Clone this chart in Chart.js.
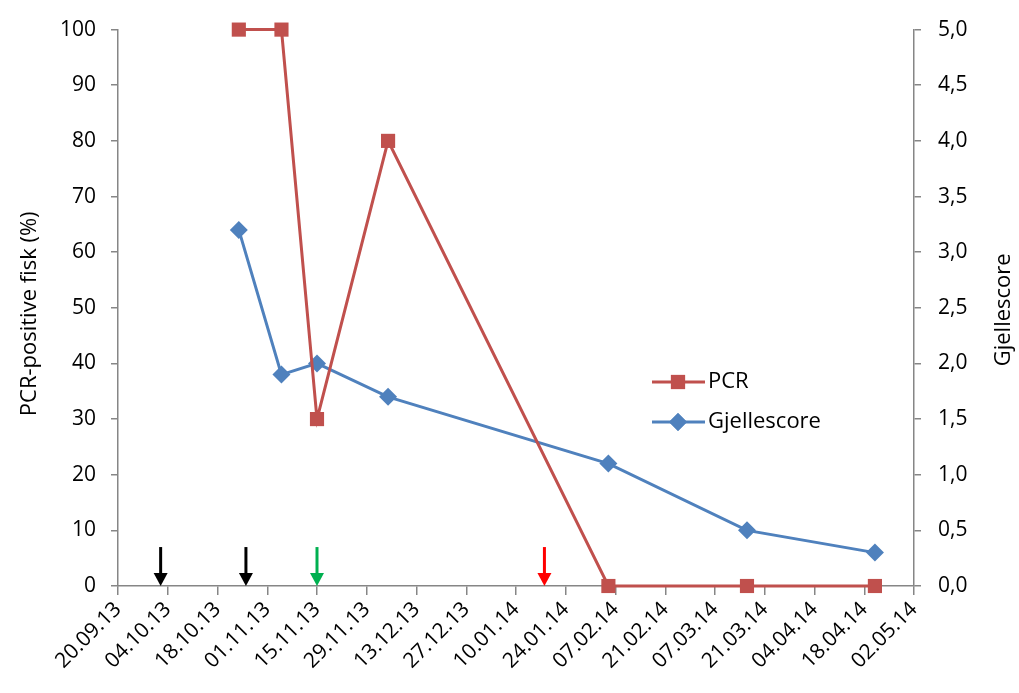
<!DOCTYPE html>
<html>
<head>
<meta charset="utf-8">
<script src="https://cdn.jsdelivr.net/npm/chart.js@4/dist/chart.umd.min.js"></script>
<style>
  html, body { margin: 0; padding: 0; background: #fff; }
  #wrap { width: 1019px; height: 693px; }
</style>
</head>
<body>
<div id="wrap"><canvas id="chart" width="1019" height="693"></canvas></div>
<script>
/* ── Data ──────────────────────────────────────────────────── */
const sampleDates = ['24.10.13', '05.11.13', '15.11.13', '05.12.13', '05.02.14', '16.03.14', '21.04.14'];
const pcrValues   = [100, 100, 30, 80, 0, 0, 0];
const gillValues  = [3.2, 1.9, 2.0, 1.7, 1.1, 0.5, 0.3];

const arrowDates  = ['02.10.13', '26.10.13', '15.11.13', '18.01.14'];
const arrowColors = ['#000000', '#000000', '#00B050', '#FF0000'];
const arrowTop    = 7;   // in % on left axis

const axisStart = '20.09.13';
const axisEnd   = '02.05.14';
const tickStepDays = 14;

/* ── Palette ───────────────────────────────────────────────── */
const palette = {
    red:  '#C0504D',
    blue: '#4F81BD',
    axis: '#868686',
    text: '#000000',
};
const FONT = '"Open Sans", Lato, "DejaVu Sans", sans-serif';

/* ── Date helpers: dd.mm.yy <-> days since axis start ──────── */
function parseDate(s) {
    const [d, m, y] = s.split('.').map(Number);
    return Date.UTC(2000 + y, m - 1, d);
}
const DAY = 86400000;
const t0 = parseDate(axisStart);
const toDay = s => Math.round((parseDate(s) - t0) / DAY);
function fmtDay(n) {
    const d = new Date(t0 + n * DAY);
    const p = v => String(v).padStart(2, '0');
    return p(d.getUTCDate()) + '.' + p(d.getUTCMonth() + 1) + '.' + p(d.getUTCFullYear() % 100);
}

const pcrData  = sampleDates.map((s, i) => ({ x: toDay(s), y: pcrValues[i] }));
const gillData = sampleDates.map((s, i) => ({ x: toDay(s), y: gillValues[i] }));

/* ── Plugins: arrows, axis titles, inline legend ───────────── */
const arrowPlugin = {
    id: 'arrows',
    afterDatasetsDraw(chart) {
        const { ctx, scales: { x, y } } = chart;
        ctx.save();
        arrowDates.forEach((s, i) => {
            const px = x.getPixelForValue(toDay(s));
            const top = y.getPixelForValue(arrowTop);
            const bot = y.getPixelForValue(0);
            ctx.strokeStyle = ctx.fillStyle = arrowColors[i];
            ctx.lineWidth = 3;
            ctx.beginPath();
            ctx.moveTo(px, top);
            ctx.lineTo(px, bot - 10);
            ctx.stroke();
            ctx.beginPath();
            ctx.moveTo(px - 7, bot - 13);
            ctx.lineTo(px + 7, bot - 13);
            ctx.lineTo(px, bot);
            ctx.closePath();
            ctx.fill();
        });
        ctx.restore();
    },
};

const titlesPlugin = {
    id: 'titles',
    afterDraw(chart) {
        const { ctx, chartArea } = chart;
        const midY = (chartArea.top + chartArea.bottom) / 2;
        ctx.save();
        ctx.fillStyle = palette.text;
        ctx.font = '22px ' + FONT;
        ctx.textAlign = 'center';
        ctx.textBaseline = 'middle';
        ctx.translate(30, midY + 6);
        ctx.rotate(-Math.PI / 2);
        ctx.fillText('PCR-positive fisk (%)', 0, 0);
        ctx.restore();

        ctx.save();
        ctx.fillStyle = palette.text;
        ctx.font = '22px ' + FONT;
        ctx.textAlign = 'center';
        ctx.textBaseline = 'middle';
        ctx.translate(1004, midY + 2);
        ctx.rotate(-Math.PI / 2);
        ctx.fillText('Gjellescore', 0, 0);
        ctx.restore();
    },
};

const legendPlugin = {
    id: 'inlineLegend',
    afterDraw(chart) {
        const { ctx } = chart;
        ctx.save();
        ctx.font = '22px ' + FONT;
        ctx.textBaseline = 'middle';
        chart.data.datasets.forEach((ds, i) => {
            const yy = 382 + i * 40;
            ctx.strokeStyle = ds.borderColor;
            ctx.lineWidth = 3;
            ctx.beginPath();
            ctx.moveTo(652, yy);
            ctx.lineTo(705, yy);
            ctx.stroke();
            ctx.fillStyle = ds.backgroundColor;
            Chart.helpers.drawPoint(ctx, {
                pointStyle: ds.pointStyle,
                radius: ds.pointRadius,
                borderWidth: 0,
                rotation: 0,
            }, 678, yy);
            ctx.fill();
            ctx.fillStyle = palette.text;
            ctx.fillText(ds.label, 708, yy);
        });
        ctx.restore();
    },
};

/* ── Chart ─────────────────────────────────────────────────── */
const tickFont = { family: FONT, size: 21 };

new Chart(document.getElementById('chart'), {
    type: 'line',
    data: {
        datasets: [
            {
                label: 'PCR',
                data: pcrData,
                yAxisID: 'y',
                borderColor: palette.red,
                backgroundColor: palette.red,
                borderWidth: 3,
                pointStyle: 'rect',
                pointRadius: 10,
                pointHoverRadius: 10,
                pointBorderWidth: 0,
                tension: 0,
                clip: false,
                order: 1,
            },
            {
                label: 'Gjellescore',
                data: gillData,
                yAxisID: 'y2',
                borderColor: palette.blue,
                backgroundColor: palette.blue,
                borderWidth: 3,
                pointStyle: 'rectRot',
                pointRadius: 9,
                pointHoverRadius: 9,
                pointBorderWidth: 0,
                tension: 0,
                clip: false,
                order: 2,
            },
        ],
    },
    options: {
        responsive: false,
        animation: false,
        layout: { padding: { top: 26, left: 0, right: 0, bottom: 0 } },
        plugins: {
            legend: { display: false },
            tooltip: { enabled: false },
        },
        scales: {
            x: {
                type: 'linear',
                min: 0,
                max: toDay(axisEnd),
                afterFit: s => { s.height = 107; },
                afterBuildTicks: s => {
                    const ticks = [];
                    for (let v = 0; v <= toDay(axisEnd); v += tickStepDays) ticks.push({ value: v });
                    s.ticks = ticks;
                },
                border: { display: true, color: palette.axis, width: 1.5 },
                grid: { drawOnChartArea: false, drawTicks: true, tickLength: 9, color: palette.axis, lineWidth: 1.5 },
                ticks: {
                    autoSkip: false,
                    minRotation: 45,
                    maxRotation: 45,
                    padding: 2,
                    color: palette.text,
                    font: { family: FONT, size: 21 },
                    callback: v => fmtDay(v),
                },
            },
            y: {
                position: 'left',
                min: 0,
                max: 100,
                afterFit: s => { s.width = 118; },
                border: { display: true, color: palette.axis, width: 1.5 },
                grid: { drawOnChartArea: false, drawTicks: true, tickLength: 7, color: palette.axis, lineWidth: 1.5 },
                ticks: { stepSize: 10, padding: 15, color: palette.text, font: tickFont },
            },
            y2: {
                position: 'right',
                min: 0,
                max: 5,
                afterFit: s => { s.width = 105; },
                border: { display: true, color: palette.axis, width: 1.5 },
                grid: { drawOnChartArea: false, drawTicks: true, tickLength: 7, color: palette.axis, lineWidth: 1.5 },
                ticks: {
                    stepSize: 0.5,
                    padding: 17,
                    color: palette.text,
                    font: tickFont,
                    callback: v => v.toFixed(1).replace('.', ','),
                },
            },
        },
    },
    plugins: [arrowPlugin, titlesPlugin, legendPlugin],
});
</script>
</body>
</html>
